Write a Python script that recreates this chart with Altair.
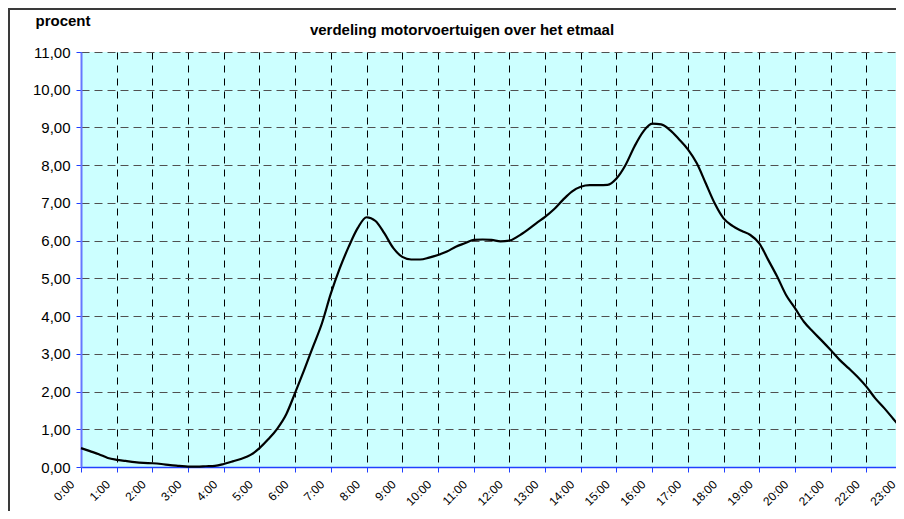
import altair as alt
import pandas as pd

# hour of day (quarter-hour steps) and share of daily motor-vehicle traffic (%)
hours = [
    0, 0.25, 0.5, 0.75, 1, 1.25, 1.5, 1.75, 2, 2.25, 2.5, 2.75,
    3, 3.25, 3.5, 3.75, 4, 4.25, 4.5, 4.75, 5, 5.25, 5.5, 5.75,
    6, 6.25, 6.5, 6.75, 7, 7.25, 7.5, 7.75, 8, 8.25, 8.5, 8.75,
    9, 9.25, 9.5, 9.75, 10, 10.25, 10.5, 10.75, 11, 11.25, 11.5, 11.75,
    12, 12.25, 12.5, 12.75, 13, 13.25, 13.5, 13.75, 14, 14.25, 14.5, 14.75,
    15, 15.25, 15.5, 15.75, 16, 16.25, 16.5, 16.75, 17, 17.25, 17.5, 17.75,
    18, 18.25, 18.5, 18.75, 19, 19.25, 19.5, 19.75, 20, 20.25, 20.5, 20.75,
    21, 21.25, 21.5, 21.75, 22, 22.25, 22.5, 22.75, 23,
]
percent = [
    0.50, 0.42, 0.34, 0.24, 0.19, 0.16, 0.13, 0.11, 0.10, 0.08, 0.05, 0.03,
    0.01, 0.01, 0.02, 0.03, 0.08, 0.15, 0.22, 0.32, 0.50, 0.74, 1.02, 1.40,
    1.97, 2.57, 3.19, 3.81, 4.60, 5.27, 5.84, 6.33, 6.62, 6.52, 6.19, 5.80,
    5.57, 5.50, 5.50, 5.55, 5.62, 5.71, 5.84, 5.93, 6.02, 6.03, 6.02, 5.98,
    6.00, 6.12, 6.28, 6.46, 6.63, 6.83, 7.08, 7.30, 7.43, 7.47, 7.47, 7.48,
    7.65, 8.00, 8.49, 8.89, 9.10, 9.08, 8.93, 8.69, 8.42, 8.05, 7.52, 6.99,
    6.59, 6.39, 6.26, 6.15, 5.93, 5.49, 5.05, 4.56, 4.21, 3.85, 3.59, 3.35,
    3.10, 2.84, 2.62, 2.39, 2.13, 1.82, 1.56, 1.28, 1.00,
]
hour_ticks = list(range(24))
y_ticks = list(range(12))

title_text = "verdeling motorvoertuigen over het etmaal"
y_title = "procent"

df = pd.DataFrame({"uur": hours, "procent": percent})

W = 815          # visible part of the plot area (it runs past the page edge)
FULL_W = 830     # full plot-area width for 0:00 .. 23:15
H = 415
FONT = "Liberation Sans"

frame = alt.Chart(pd.DataFrame({"k": [0]})).mark_rect(
    fillOpacity=0, stroke="#3a3a3a", strokeWidth=2
).encode(
    x=alt.value(-72), x2=alt.value(W + 200),
    y=alt.value(-43), y2=alt.value(H + 200),
)

title = alt.Chart(pd.DataFrame({"t": [title_text]})).mark_text(
    font=FONT, fontSize=15, fontWeight="bold", color="black",
    align="center", baseline="alphabetic",
).encode(text="t:N", x=alt.value(381), y=alt.value(-17))

line = alt.Chart(df).mark_line(
    color="black", strokeWidth=2.2, interpolate="monotone"
).encode(
    x=alt.X(
        "uur:Q",
        scale=alt.Scale(domain=[0, 23.25], range=[0, FULL_W], nice=False, zero=False),
        axis=alt.Axis(
            values=hour_ticks,
            labelExpr="datum.value + ':00'",
            labelAngle=-45,
            labelAlign="right",
            labelBaseline="middle",
            labelPadding=10,
            labelOffset=-9,
            labelFontSize=12,
            labelFont=FONT,
            labelColor="black",
            labelOverlap=False,
            labelBound=False,
            tickColor="#2040ff",
            tickSize=5,
            domainColor="#2040ff",
            domainWidth=1.5,
            grid=True,
            gridColor="black",
            gridDash=[7, 6],
            gridWidth=1,
            title=None,
        ),
    ),
    y=alt.Y(
        "procent:Q",
        scale=alt.Scale(domain=[0, 11], nice=False),
        axis=alt.Axis(
            values=y_ticks,
            labelExpr="replace(format(datum.value, '.2f'), '.', ',')",
            labelFontSize=15,
            labelFont=FONT,
            labelColor="black",
            labelPadding=6,
            tickColor="#2040ff",
            tickSize=5,
            domainColor="#6677ff",
            domainWidth=2,
            grid=True,
            gridColor="#505050",
            gridDash=[8, 5],
            gridWidth=1,
            title=y_title,
            titleAngle=0,
            titleX=-46,
            titleY=-27,
            titleAlign="left",
            titleBaseline="alphabetic",
            titleFontSize=15,
            titleFont=FONT,
            titleFontWeight="bold",
            titleColor="black",
        ),
    ),
)

chart = alt.layer(frame, title, line).properties(
    width=W,
    height=H,
    padding={"left": 73, "top": 44, "right": 0, "bottom": 44},
    autosize=alt.AutoSizeParams(type="none"),
    background="white",
).configure_view(fill="#ccffff", strokeWidth=0)

chart.save("out.html", embed_options={"renderer": "svg", "actions": False})
